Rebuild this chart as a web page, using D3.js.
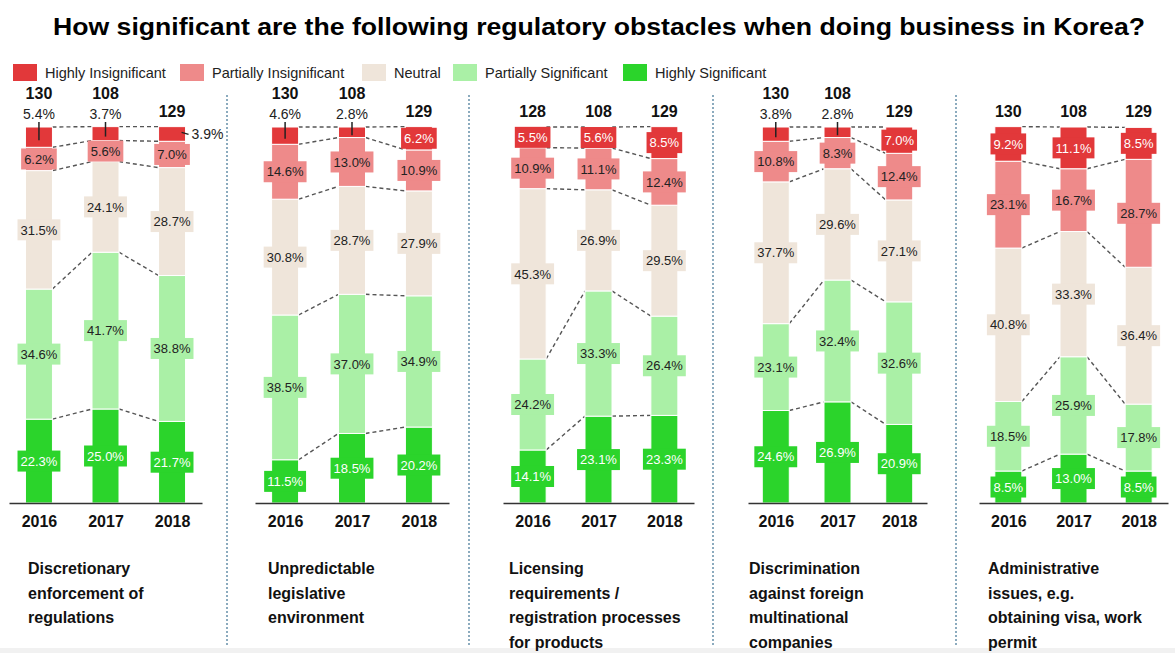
<!DOCTYPE html>
<html>
<head>
<meta charset="utf-8">
<script src="https://cdn.jsdelivr.net/npm/d3@7/dist/d3.min.js"></script>
<style>
  html, body { margin: 0; padding: 0; background: #fff; }
  svg { display: block; font-family: "Liberation Sans", Arial, sans-serif; }
</style>
</head>
<body>
<div id="chart"></div>
<script>
// Survey years and answer categories (top of the stack first)
const years = ["2016", "2017", "2018"];
const categories = ["Highly Insignificant", "Partially Insignificant", "Neutral", "Partially Significant", "Highly Significant"];

// Obstacle captions, one line per entry
const captions = [
  ["Discretionary", "enforcement of", "regulations"],
  ["Unpredictable", "legislative", "environment"],
  ["Licensing", "requirements /", "registration processes", "for products"],
  ["Discrimination", "against foreign", "multinational", "companies"],
  ["Administrative", "issues, e.g.", "obtaining visa, work", "permit"]
];

// Respondents per year for each obstacle
const sampleSizes = [
  [130, 108, 129],
  [130, 108, 129],
  [128, 108, 129],
  [130, 108, 129],
  [130, 108, 129]
];

// Shares (%) per year, in category order
const discretionaryEnforcement = [
  [5.4, 6.2, 31.5, 34.6, 22.3],
  [3.7, 5.6, 24.1, 41.7, 25.0],
  [3.9, 7.0, 28.7, 38.8, 21.7]
];
const unpredictableLegislation = [
  [4.6, 14.6, 30.8, 38.5, 11.5],
  [2.8, 13.0, 28.7, 37.0, 18.5],
  [6.2, 10.9, 27.9, 34.9, 20.2]
];
const licensingRequirements = [
  [5.5, 10.9, 45.3, 24.2, 14.1],
  [5.6, 11.1, 26.9, 33.3, 23.1],
  [8.5, 12.4, 29.5, 26.4, 23.3]
];
const discriminationForeign = [
  [3.8, 10.8, 37.7, 23.1, 24.6],
  [2.8, 8.3, 29.6, 32.4, 26.9],
  [7.0, 12.4, 27.1, 32.6, 20.9]
];
const administrativeIssues = [
  [9.2, 23.1, 40.8, 18.5, 8.5],
  [11.1, 16.7, 33.3, 25.9, 13.0],
  [8.5, 28.7, 36.4, 17.8, 8.5]
];
const panelValues = [discretionaryEnforcement, unpredictableLegislation, licensingRequirements, discriminationForeign, administrativeIssues];

// ---- layout ----
const W = 1175, H = 653;
const panelRange = [[9, 202], [255, 449], [503, 694], [748, 927], [979, 1168]];
const captionX = [28, 268, 509, 749, 988];
const dividerX = [227, 469, 713, 956];
const legendX = [13, 180, 362, 453, 623];
const BAR_W = 27;
const INSIDE_MIN = 5.45;   // smaller shares get their label outside the bar

const color = d3.scaleOrdinal()
  .domain(categories)
  .range(["#e2383a", "#ee8a8a", "#efe5da", "#aaf0a6", "#2bd42b"]);
const textColor = d3.scaleOrdinal()
  .domain(categories)
  .range(["#ffffff", "#222222", "#222222", "#222222", "#ffffff"]);

const y = d3.scaleLinear().domain([0, 100]).range([503, 127]);

const svg = d3.select("#chart").append("svg")
  .attr("width", W).attr("height", H);

// title
svg.append("text")
  .attr("x", 53).attr("y", 35)
  .attr("textLength", 1092).attr("lengthAdjust", "spacingAndGlyphs")
  .style("font-size", "23.5px").style("font-weight", "bold").style("fill", "#000")
  .text("How significant are the following regulatory obstacles when doing business in Korea?");

// legend
const legend = svg.append("g");
categories.forEach((c, i) => {
  const lx = legendX[i];
  legend.append("rect").attr("x", lx).attr("y", 64).attr("width", 24).attr("height", 17).attr("fill", color(c));
  legend.append("text").attr("x", lx + 32).attr("y", 78)
    .style("font-size", "14.5px").style("fill", "#222").text(c);
});

// dotted panel dividers
svg.selectAll(".divider").data(dividerX).join("line")
  .attr("class", "divider")
  .attr("x1", d => d).attr("x2", d => d)
  .attr("y1", 95).attr("y2", 646)
  .attr("stroke", "#4f7f9c").attr("stroke-width", 1.3).attr("stroke-dasharray", "2,2");

// bottom rule
svg.append("rect").attr("x", 0).attr("y", 648).attr("width", W).attr("height", 5).attr("fill", "#f1f1f1");

panelValues.forEach((vals, pi) => {
  const g = svg.append("g");
  const x = d3.scalePoint().domain(years).range(panelRange[pi]).padding(0.45);

  const rows = years.map((yr, yi) => {
    const r = { year: yr };
    categories.forEach((c, ci) => { r[c] = vals[yi][ci]; });
    return r;
  });
  const layers = d3.stack().keys(categories.slice().reverse())(rows);

  // dashed connectors between neighbouring bars at each boundary
  layers.forEach(layer => {
    for (let i = 0; i < years.length - 1; i++) {
      g.append("line")
        .attr("x1", x(years[i]) + BAR_W / 2).attr("y1", y(layer[i][1]))
        .attr("x2", x(years[i + 1]) - BAR_W / 2).attr("y2", y(layer[i + 1][1]))
        .attr("stroke", "#555").attr("stroke-width", 1.4).attr("stroke-dasharray", "4,3");
    }
  });

  // stacked segments
  layers.forEach(layer => {
    g.selectAll(null).data(layer).join("rect")
      .attr("x", d => x(d.data.year) - BAR_W / 2)
      .attr("y", d => y(d[1]))
      .attr("width", BAR_W)
      .attr("height", d => y(d[0]) - y(d[1]))
      .attr("fill", color(layer.key))
      .attr("stroke", "#fff").attr("stroke-width", 1);
  });

  // value labels
  layers.forEach(layer => {
    layer.forEach((d, yi) => {
      const v = d.data[layer.key];
      const cx = x(d.data.year);
      const mid = (y(d[0]) + y(d[1])) / 2;
      const label = v.toFixed(1) + "%";
      if (v >= INSIDE_MIN) {
        const lg = g.append("g");
        const box = lg.append("rect").attr("fill", color(layer.key));
        const t = lg.append("text")
          .attr("x", cx).attr("y", mid).attr("dy", "0.36em")
          .attr("text-anchor", "middle")
          .style("font-size", "13px").style("fill", textColor(layer.key))
          .text(label);
        const w = t.node().getComputedTextLength() + 6;
        box.attr("x", cx - w / 2).attr("y", mid - 10.5).attr("width", w).attr("height", 21);
      } else if (yi < years.length - 1) {
        g.append("line")
          .attr("x1", cx).attr("x2", cx).attr("y1", 122).attr("y2", mid + 3)
          .attr("stroke", "#222").attr("stroke-width", 1.5);
        g.append("text")
          .attr("x", cx).attr("y", 119).attr("text-anchor", "middle")
          .style("font-size", "14px").style("fill", "#222").text(label);
      } else {
        g.append("line")
          .attr("x1", cx + BAR_W / 2 - 4).attr("y1", mid - 1.5)
          .attr("x2", cx + BAR_W / 2 + 3).attr("y2", mid + 0.5)
          .attr("stroke", "#222").attr("stroke-width", 1.3);
        g.append("text")
          .attr("x", cx + BAR_W / 2 + 6).attr("y", mid).attr("dy", "0.36em")
          .style("font-size", "14px").style("fill", "#222").text(label);
      }
    });
  });

  // respondent counts above each bar
  years.forEach((yr, yi) => {
    const top = vals[yi][0];
    const raised = top < INSIDE_MIN && yi < years.length - 1;
    g.append("text")
      .attr("x", x(yr)).attr("y", raised ? 99 : 117)
      .attr("text-anchor", "middle")
      .style("font-size", "16px").style("font-weight", "bold").style("fill", "#111")
      .text(sampleSizes[pi][yi]);
  });

  // year axis
  const axis = g.append("g")
    .attr("transform", "translate(0,503)")
    .call(d3.axisBottom(x).tickSize(0).tickSizeOuter(0).tickPadding(13));
  axis.select(".domain").attr("stroke", "#333").attr("stroke-width", 1.3);
  axis.selectAll(".tick text")
    .style("font-size", "16px").style("font-weight", "bold").style("fill", "#111")
    .style("font-family", "'Liberation Sans', Arial, sans-serif");

  // caption
  const cap = g.append("text")
    .attr("x", captionX[pi]).attr("y", 574)
    .style("font-size", "16px").style("font-weight", "bold").style("fill", "#111");
  captions[pi].forEach((line, li) => {
    cap.append("tspan").attr("x", captionX[pi]).attr("y", 574 + li * 24.5).text(line);
  });
});
</script>
</body>
</html>
